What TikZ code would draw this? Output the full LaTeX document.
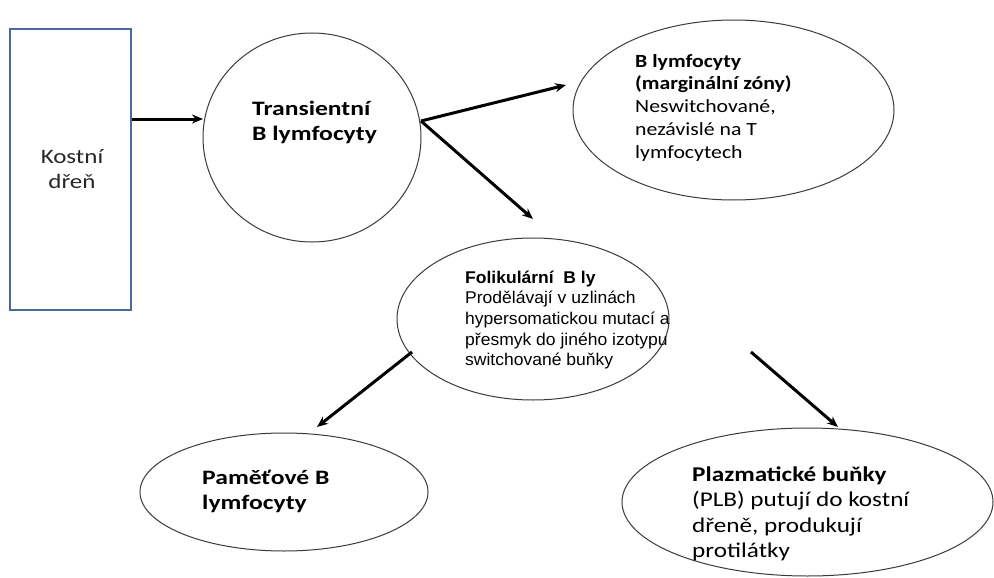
\documentclass[tikz,border=0pt]{standalone}
\usepackage{fontspec}
\usepackage{graphicx}
\setmainfont{Carlito}
\newfontfamily\arialfont{Liberation Sans}
\usetikzlibrary{arrows.meta,shapes.geometric}
\definecolor{boxblue}{HTML}{4A6A9C}
\definecolor{outl}{HTML}{3A3A3A}
\newcommand{\wideL}[2]{\scalebox{#1}[1]{\begin{tabular}[t]{@{}l@{}}#2\end{tabular}}}
\newcommand{\wideC}[2]{\scalebox{#1}[1]{\begin{tabular}[t]{@{}c@{}}#2\end{tabular}}}
\tikzset{
  arr/.style={line width=3pt,-{Stealth[length=11pt,width=9pt]}},
  ell/.style={ellipse,draw=outl,line width=1pt,inner sep=0pt},
  lbl/.style={anchor=base west,inner sep=0pt},
}
\begin{document}
\begin{tikzpicture}[x=1pt,y=-1pt]
\useasboundingbox (0,0) rectangle (994,578);
% box
\node[draw=boxblue,line width=2pt,minimum width=121pt,minimum height=281pt,inner sep=0pt] (rect) at (70.5,169.5) {};
\node[anchor=base,inner sep=0pt,font=\fontsize{20.5}{25}\selectfont,text=black!85] (kd) at (72,163) {\wideC{1.22}{Kostní\\dřeň}};
% ellipses
\node[ell,minimum width=218pt,minimum height=209pt] (trans) at (312,137.5) {};
\node[ell,minimum width=321pt,minimum height=180pt] (marg) at (733.5,110) {};
\node[ell,minimum width=272pt,minimum height=162pt] (foli) at (533,319) {};
\node[ell,minimum width=288pt,minimum height=118pt] (pam) at (284,492) {};
\node[ell,minimum width=371pt,minimum height=148pt] (plaz) at (807.5,502) {};
% texts
\node[lbl,font=\fontsize{20.5}{25}\selectfont\bfseries] (ttrans) at (252,115) {\wideL{1.25}{Transientní\\B lymfocyty}};
\node[lbl,font=\fontsize{18.6}{22.8}\selectfont] (tmarg) at (635,67) {\wideL{1.17}{\textbf{B lymfocyty}\\\textbf{(marginální zóny)}\\Neswitchované,\\nezávislé na T\\lymfocytech}};
\node[lbl,font=\arialfont\fontsize{17}{20.7}\selectfont] (tfoli) at (465,283) {\wideL{1.03}{\textbf{Folikulární\ \ B ly}\\Prodělávají v uzlinách\\hypersomatickou mutací a\\přesmyk do jiného izotypu\\switchované buňky}};
\node[lbl,font=\fontsize{20.5}{25}\selectfont\bfseries] (tpam) at (202,484) {\wideL{1.25}{Paměťové B\\lymfocyty}};
\node[lbl,font=\fontsize{21}{25.5}\selectfont] (tplaz) at (692,481) {\wideL{1.2}{\textbf{Plazmatické buňky}\\(PLB) putují do kostní\\dřeně, produkují\\protilátky}};
% arrow coordinates
\coordinate (a1) at (203,119);
\coordinate (s2) at (421,121);
\coordinate (e2) at (566,85);
\coordinate (e3) at (533,219);
\coordinate (s4) at (412,352);
\coordinate (e4) at (317,427);
\coordinate (s5) at (751,352);
\coordinate (e5) at (838,427);
% arrows
\draw[arr] (rect.east |- a1) -- (a1);
\draw[arr] (s2) -- (e2);
\draw[arr] (s2) -- (e3);
\draw[arr] (s4) -- (e4);
\draw[arr] (s5) -- (e5);
\end{tikzpicture}
\end{document}
